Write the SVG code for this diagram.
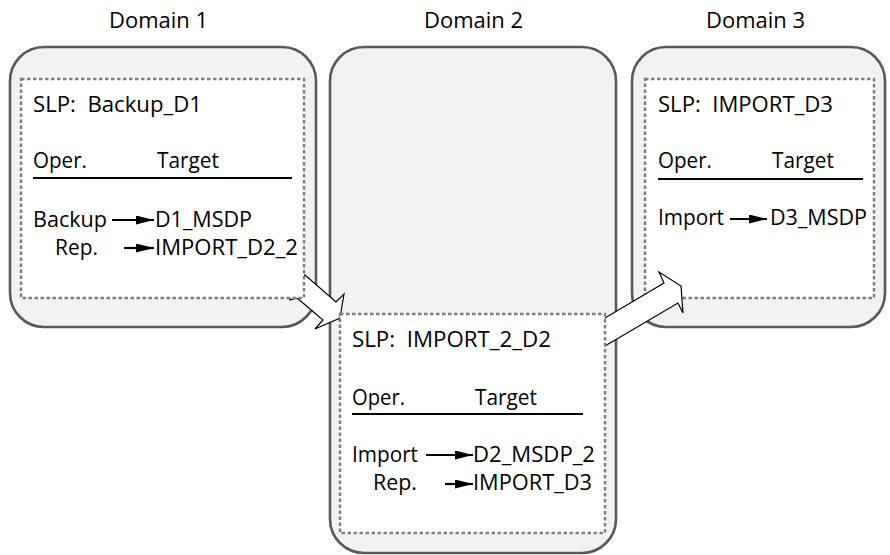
<svg xmlns="http://www.w3.org/2000/svg" width="890" height="555" viewBox="0 0 890 555">
<style>
.outer{fill:#f2f2f2;stroke:#595959;stroke-width:2.6}
.inner{fill:#ffffff;stroke:#7f7f7f;stroke-width:2.5;stroke-dasharray:3.5 2.5}
.blk{fill:#ffffff;stroke:#000000;stroke-width:1.2;stroke-linejoin:miter}
text{font-family:"Open Sans","Noto Sans","Liberation Sans",sans-serif;fill:#000;white-space:pre}
.t{font-size:21px}
.h{font-size:22px}
.rule{stroke:#000;stroke-width:2}
.arr{stroke:#000;stroke-width:2.2;marker-end:url(#ah)}
</style>
<defs>
<marker id="ah" markerUnits="userSpaceOnUse" markerWidth="18" markerHeight="9" refX="18" refY="4.5" orient="auto">
<path d="M0,0 L18,4.5 L0,9 z" fill="#000"/>
</marker>
</defs>
<text class="h" x="158.5" y="28" text-anchor="middle" textLength="99" lengthAdjust="spacingAndGlyphs">Domain 1</text>
<text class="h" x="473.5" y="28" text-anchor="middle" textLength="99" lengthAdjust="spacingAndGlyphs">Domain 2</text>
<text class="h" x="755.5" y="28" text-anchor="middle" textLength="99" lengthAdjust="spacingAndGlyphs">Domain 3</text>
<g id="domain1-box"><rect class="outer" x="10" y="47" width="306" height="280" rx="34"/></g>
<g id="domain2-box"><rect class="outer" x="330" y="47" width="286" height="506" rx="34"/></g>
<g id="domain3-box"><rect class="outer" x="632" y="47" width="253" height="280" rx="34"/></g>
<g id="slp3">
<rect class="inner" x="645" y="79" width="229" height="219"/>
<text class="t" x="658" y="112" textLength="175" lengthAdjust="spacingAndGlyphs">SLP:  IMPORT_D3</text>
<text class="t" x="658" y="168" textLength="54" lengthAdjust="spacingAndGlyphs">Oper.</text>
<text class="t" x="772" y="168" textLength="62" lengthAdjust="spacingAndGlyphs">Target</text>
<line class="rule" x1="658" y1="179" x2="863" y2="179"/>
<text class="t" x="658" y="225" textLength="66" lengthAdjust="spacingAndGlyphs">Import</text>
<line class="arr" x1="730" y1="219" x2="767" y2="219"/>
<text class="t" x="770" y="225" textLength="97" lengthAdjust="spacingAndGlyphs">D3_MSDP</text>
</g>
<g id="connectors">
<polygon class="blk" points="290,286 305,275 336,302 344,294 340,318 315,329 323,320 297,298 290,300"/>
<polygon class="blk" points="595,320 605,318 664,283 659,272 681,286 683,313 678,303 605,346 595,350"/>
</g>
<g id="slp1">
<rect class="inner" x="21" y="79" width="283" height="219"/>
<text class="t" x="33" y="112" textLength="169" lengthAdjust="spacingAndGlyphs">SLP:  Backup_D1</text>
<text class="t" x="33" y="168" textLength="54" lengthAdjust="spacingAndGlyphs">Oper.</text>
<text class="t" x="157" y="168" textLength="62" lengthAdjust="spacingAndGlyphs">Target</text>
<line class="rule" x1="33" y1="178" x2="292" y2="178"/>
<text class="t" x="33" y="227" textLength="74" lengthAdjust="spacingAndGlyphs">Backup</text>
<line class="arr" x1="112" y1="220" x2="154" y2="220"/>
<text class="t" x="155" y="227" textLength="97" lengthAdjust="spacingAndGlyphs">D1_MSDP</text>
<text class="t" x="55" y="255" textLength="43" lengthAdjust="spacingAndGlyphs">Rep.</text>
<line class="arr" x1="124" y1="248" x2="154" y2="248"/>
<text class="t" x="155" y="255" textLength="143" lengthAdjust="spacingAndGlyphs">IMPORT_D2_2</text>
</g>
<g id="slp2">
<rect class="inner" x="340" y="314" width="265" height="219"/>
<text class="t" x="352" y="347" textLength="199" lengthAdjust="spacingAndGlyphs">SLP:  IMPORT_2_D2</text>
<text class="t" x="352" y="405" textLength="53" lengthAdjust="spacingAndGlyphs">Oper.</text>
<text class="t" x="475" y="405" textLength="62" lengthAdjust="spacingAndGlyphs">Target</text>
<line class="rule" x1="352" y1="414" x2="583" y2="414"/>
<text class="t" x="352" y="462" textLength="66" lengthAdjust="spacingAndGlyphs">Import</text>
<line class="arr" x1="426" y1="455" x2="473" y2="455"/>
<text class="t" x="473" y="462" textLength="122" lengthAdjust="spacingAndGlyphs">D2_MSDP_2</text>
<text class="t" x="373" y="490" textLength="44" lengthAdjust="spacingAndGlyphs">Rep.</text>
<line class="arr" x1="445" y1="484" x2="473" y2="484"/>
<text class="t" x="473" y="490" textLength="119" lengthAdjust="spacingAndGlyphs">IMPORT_D3</text>
</g>
</svg>
